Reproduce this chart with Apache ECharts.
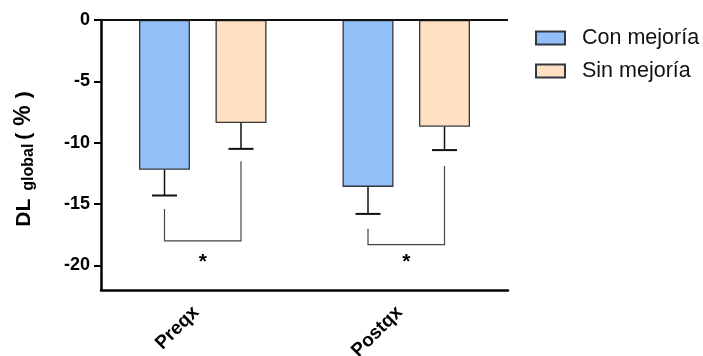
<!DOCTYPE html>
<html>
<head>
<meta charset="utf-8">
<script src="https://cdn.jsdelivr.net/npm/echarts@6/dist/echarts.min.js"></script>
<style>
  html, body { margin: 0; padding: 0; background: #fff; }
  #chart { width: 703px; height: 356px; }
</style>
</head>
<body>
<div id="chart"></div>
<script>
// Categories and group names
const categories = ['Preqx', 'Postqx'];
const seriesNames = ['Con mejoría', 'Sin mejoría'];

// Mean global change (%) per group
const conMejoria = [-12.2, -13.6];
const sinMejoria = [-8.4, -8.7];

// Error (drawn downward from each bar)
const conError = [2.1, 2.2];
const sinError = [2.1, 1.9];

// Significance brackets: left arm top, right arm top, bracket bottom, star level
const bracketLeftTop = [-15.4, -17.0];
const bracketRightTop = [-11.5, -11.9];
const bracketBottom = [-18.0, -18.3];
const starLevel = [-19.7, -19.7];
const starText = ['*', '*'];

// Y axis ticks
const yTicks = [-20, -15, -10, -5, 0];
const yMin = -22;
const yMax = 0;

const FONT = 'Liberation Sans, Arial, sans-serif';
const BAR_W = 51;
const BAR_GAP = 25.5;
const OFFSET = (BAR_W + BAR_GAP) / 2;
const CAP = 25;

const chart = echarts.init(document.getElementById('chart'), null, { renderer: 'canvas' });

function errorSeries(values, errors, dx) {
  return {
    type: 'custom',
    silent: true,
    z: 5,
    data: values.map((v, i) => [i, v, v - errors[i]]),
    renderItem: function (params, api) {
      const top = api.coord([api.value(0), api.value(1)]);
      const bot = api.coord([api.value(0), api.value(2)]);
      const x = top[0] + dx;
      return {
        type: 'group',
        children: [
          { type: 'line', shape: { x1: x, y1: top[1], x2: x, y2: bot[1] }, style: { stroke: '#111', lineWidth: 1.5 } },
          { type: 'line', shape: { x1: x - CAP / 2, y1: bot[1], x2: x + CAP / 2, y2: bot[1] }, style: { stroke: '#111', lineWidth: 2 } }
        ]
      };
    }
  };
}

const bracketData = categories.map((c, i) => [i, bracketLeftTop[i], bracketRightTop[i], bracketBottom[i], starLevel[i]]);

const option = {
  animation: false,
  backgroundColor: '#fff',
  textStyle: { fontFamily: FONT },
  grid: { left: 101, right: 195, top: 20, bottom: 66, containLabel: false, outerBoundsMode: 'none' },
  legend: {
    orient: 'vertical',
    left: 535,
    top: 27,
    padding: 0,
    itemWidth: 29,
    itemHeight: 13,
    itemGap: 11,
    icon: 'rect',
    textStyle: { fontSize: 21.5, color: '#111', padding: [0, 0, 0, 12] },
    data: seriesNames
  },
  xAxis: {
    type: 'category',
    data: categories,
    axisLine: { onZero: false, lineStyle: { color: '#000', width: 2.5 } },
    axisTick: { alignWithLabel: true, length: 6, lineStyle: { color: '#000', width: 2.5 } },
    axisLabel: { rotate: 45, fontSize: 19, fontWeight: 'bold', color: '#000', margin: 26, verticalAlign: 'bottom' }
  },
  yAxis: {
    type: 'value',
    min: yMin,
    max: yMax,
    splitLine: { show: false },
    axisLine: { show: true, lineStyle: { color: '#000', width: 2.5 } },
    axisTick: { show: true, length: 7, customValues: yTicks, lineStyle: { color: '#000', width: 2 } },
    axisLabel: { customValues: yTicks, fontSize: 18, fontWeight: 'bold', color: '#000', margin: 11 },
    name: '{m|DL}{s|global}{p|(}{pc|%}{p|)}',
    nameLocation: 'middle',
    nameRotate: 90,
    nameGap: 64,
    nameTextStyle: {
      padding: [0, 8, 0, 0],
      rich: {
        m: { fontSize: 21, fontWeight: 'bold', color: '#000', lineHeight: 26, fontFamily: FONT, padding: [0, 8, 0, 0] },
        s: { fontSize: 16, fontWeight: 'bold', color: '#000', lineHeight: 15, verticalAlign: 'bottom', fontFamily: FONT, padding: [0, 4, 0, 0] },
        p: { fontSize: 21, fontWeight: 'bold', color: '#000', lineHeight: 26, fontFamily: FONT },
        pc: { fontSize: 23, fontWeight: 'bold', color: '#000', lineHeight: 26, fontFamily: FONT, padding: [0, 7, 0, 7] }
      }
    }
  },
  series: [
    {
      name: seriesNames[0],
      type: 'bar',
      data: conMejoria,
      barWidth: BAR_W,
      barGap: '50%',
      itemStyle: { color: '#92BFF8', borderColor: '#33373f', borderWidth: 1.3 },
      markLine: {
        silent: true,
        symbol: 'none',
        label: { show: false },
        lineStyle: { color: '#111', width: 2, type: 'solid' },
        data: [{ yAxis: 0 }]
      }
    },
    {
      name: seriesNames[1],
      type: 'bar',
      data: sinMejoria,
      barWidth: BAR_W,
      itemStyle: { color: '#FFE0C0', borderColor: '#33373f', borderWidth: 1.3 }
    },
    errorSeries(conMejoria, conError, -OFFSET),
    errorSeries(sinMejoria, sinError, OFFSET),
    {
      type: 'custom',
      silent: true,
      z: 5,
      data: bracketData,
      renderItem: function (params, api) {
        const i = api.value(0);
        const lt = api.coord([i, api.value(1)]);
        const rt = api.coord([i, api.value(2)]);
        const bt = api.coord([i, api.value(3)]);
        const st = api.coord([i, api.value(4)]);
        const xl = lt[0] - OFFSET;
        const xr = lt[0] + OFFSET;
        return {
          type: 'group',
          children: [
            {
              type: 'polyline',
              shape: { points: [[xl, lt[1]], [xl, bt[1]], [xr, bt[1]], [xr, rt[1]]] },
              style: { stroke: '#444', lineWidth: 1.2, fill: null }
            },
            {
              type: 'text',
              style: {
                x: lt[0], y: st[1],
                text: starText[params.dataIndex],
                fontSize: 21, fontWeight: 'bold',
                fontFamily: FONT,
                fill: '#000', align: 'center', verticalAlign: 'middle'
              }
            }
          ]
        };
      }
    }
  ]
};

chart.setOption(option);
</script>
</body>
</html>
